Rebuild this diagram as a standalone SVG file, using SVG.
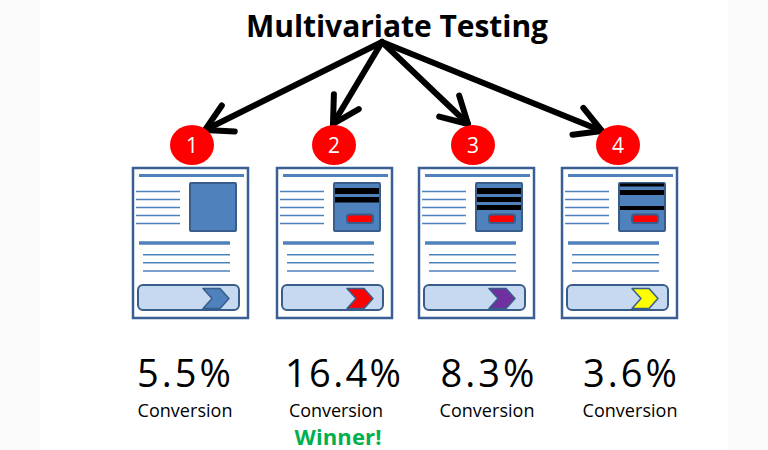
<svg xmlns="http://www.w3.org/2000/svg" width="768" height="450" viewBox="0 0 768 450">
<style>
.bg{fill:#ffffff}
.band{fill:#fafafa}
.page{fill:#ffffff;stroke:#3a5f95;stroke-width:2.5}
.ln{stroke:#4f81bd;stroke-width:1.5}
.tk{stroke:#4f81bd;stroke-width:3.5}
.img{fill:#4f81bd;stroke:#385d8a;stroke-width:2}
.btn{fill:#c6d9f1;stroke:#385d8a;stroke-width:2}
.bar{fill:#000000}
.rb{fill:#ff0000;stroke:#385d8a;stroke-width:2}
.chev{stroke:#385d8a;stroke-width:1.5;stroke-linejoin:round}
.badge{fill:#ff0000}
.num{font-family:"Open Sans","Liberation Sans",sans-serif;font-size:21px;fill:#ffffff;text-anchor:middle}
.title{font-family:"Open Sans","Liberation Sans",sans-serif;font-weight:bold;font-size:30px;fill:#000000;text-anchor:middle}
.pct{font-family:"Open Sans","Liberation Sans",sans-serif;font-size:38px;fill:#000000;text-anchor:middle}
.conv{font-family:"Open Sans","Liberation Sans",sans-serif;font-size:18px;fill:#000000;text-anchor:middle}
.win{font-family:"Open Sans","Liberation Sans",sans-serif;font-weight:bold;font-size:22px;fill:#00b050;text-anchor:middle}
.arrow{fill:none;stroke:#000000;stroke-width:6;stroke-linecap:round}
</style>
<defs>
<marker id="ah" markerUnits="userSpaceOnUse" orient="auto" markerWidth="1" markerHeight="1" refX="0" refY="0" overflow="visible">
<path d="M-26,-14.5 L0,0 L-26,14.5" fill="none" stroke="#000000" stroke-width="6" stroke-linecap="round" stroke-linejoin="round"/>
</marker>
<g id="pagebase">
<rect class="page" x="0" y="0" width="115" height="150"/>
<line class="tk" x1="6" y1="7.5" x2="111" y2="7.5" style="stroke-width:3"/>
<line class="ln" x1="3" y1="23.5" x2="47" y2="23.5"/>
<line class="ln" x1="3" y1="31.5" x2="47" y2="31.5"/>
<line class="ln" x1="3" y1="39.5" x2="47" y2="39.5"/>
<line class="ln" x1="3" y1="47.5" x2="47" y2="47.5"/>
<line class="ln" x1="3" y1="55.5" x2="47" y2="55.5"/>
<rect class="img" x="57" y="15" width="46" height="48" rx="1"/>
<line class="tk" x1="6" y1="75" x2="97" y2="75"/>
<line class="ln" x1="10" y1="86.7" x2="97" y2="86.7"/>
<line class="ln" x1="10" y1="94.7" x2="97" y2="94.7"/>
<line class="ln" x1="10" y1="103" x2="97" y2="103"/>
<rect class="btn" x="5" y="117" width="101" height="25" rx="5"/>
</g>
<path id="chevshape" d="M70,120.5 L87,120.5 L96,130.5 L87,140.5 L70,140.5 L79,130.5 Z"/>
</defs>
<rect class="bg" x="0" y="0" width="768" height="450"/>
<rect class="band" x="0" y="0" width="40" height="450"/>
<rect class="band" x="728" y="0" width="40" height="450"/>

<g id="title">
<text class="title" x="397" y="37" textLength="302">Multivariate Testing</text>
</g>

<g id="connectors">
<path class="arrow" d="M382,42 L205,130" marker-end="url(#ah)"/>
<path class="arrow" d="M382,42 L333,124" marker-end="url(#ah)"/>
<path class="arrow" d="M382,42 L468,124" marker-end="url(#ah)"/>
<path class="arrow" d="M382,42 L602,131" marker-end="url(#ah)"/>
</g>

<g id="variant1" transform="translate(133,168)">
<use href="#pagebase"/>
<use href="#chevshape" class="chev" style="fill:#4f81bd"/>
</g>
<g id="badge1">
<ellipse class="badge" cx="192" cy="145" rx="22" ry="20"/>
<text class="num" x="192" y="153">1</text>
</g>

<g id="variant2" transform="translate(277,168)">
<use href="#pagebase"/>
<rect class="bar" x="58" y="20" width="44" height="6"/>
<rect class="bar" x="58" y="29" width="44" height="5.5"/>
<rect class="rb" x="70" y="46.5" width="26" height="8.5" rx="2.5"/>
<use href="#chevshape" class="chev" style="fill:#ff0000"/>
</g>
<g id="badge2">
<ellipse class="badge" cx="334" cy="145" rx="22" ry="20"/>
<text class="num" x="334" y="153">2</text>
</g>

<g id="variant3" transform="translate(419,168)">
<use href="#pagebase"/>
<rect class="bar" x="58" y="20" width="44" height="6"/>
<rect class="bar" x="58" y="29" width="44" height="5"/>
<rect class="bar" x="58" y="37" width="44" height="5"/>
<rect class="rb" x="70" y="46.5" width="26" height="8.5" rx="2.5"/>
<use href="#chevshape" class="chev" style="fill:#7030a0"/>
</g>
<g id="badge3">
<ellipse class="badge" cx="473" cy="145" rx="22" ry="20"/>
<text class="num" x="473" y="153">3</text>
</g>

<g id="variant4" transform="translate(562,168)">
<use href="#pagebase"/>
<rect class="bar" x="58" y="15.5" width="44" height="3"/>
<rect class="bar" x="58" y="22" width="44" height="5"/>
<rect class="bar" x="58" y="38" width="44" height="4"/>
<rect class="rb" x="70" y="46.5" width="26" height="8.5" rx="2.5"/>
<use href="#chevshape" class="chev" style="fill:#ffff00"/>
</g>
<g id="badge4">
<ellipse class="badge" cx="618" cy="145" rx="22" ry="20"/>
<text class="num" x="618" y="153">4</text>
</g>

<g id="results">
<text class="pct" x="184" y="387" textLength="94">5.5%</text>
<text class="conv" x="185" y="417" textLength="95">Conversion</text>
<text class="pct" x="343" y="387" textLength="116">16.4%</text>
<text class="conv" x="336" y="417" textLength="94">Conversion</text>
<text class="win" x="338" y="445" textLength="87">Winner!</text>
<text class="pct" x="487.5" y="387" textLength="94">8.3%</text>
<text class="conv" x="487" y="417" textLength="95">Conversion</text>
<text class="pct" x="630" y="387" textLength="94">3.6%</text>
<text class="conv" x="630" y="417" textLength="95">Conversion</text>
</g>
</svg>
